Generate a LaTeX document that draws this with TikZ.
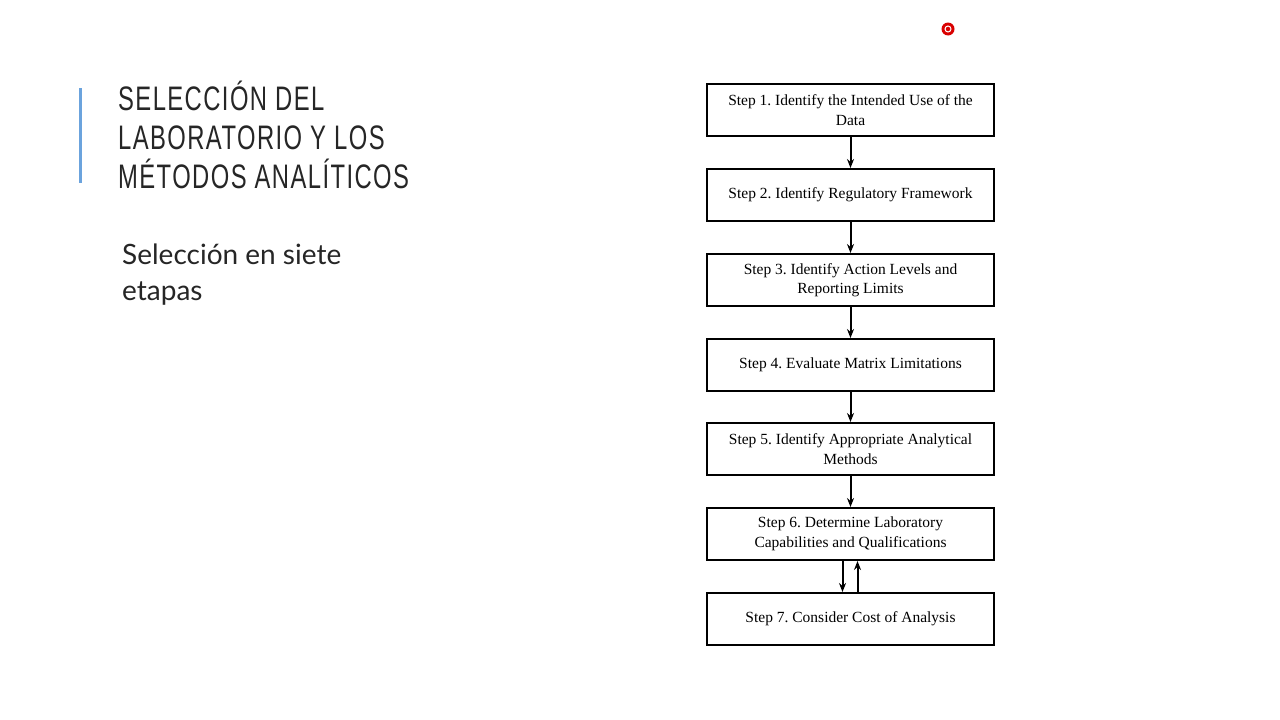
\documentclass[tikz,border=0pt]{standalone}
\usepackage{fontspec}
\setmainfont{Liberation Serif}
\newfontfamily\titlefont[LetterSpace=6]{Liberation Sans}
\newfontfamily\subfont{Lato}
\usetikzlibrary{arrows.meta}
\frenchspacing
\begin{document}
\begin{tikzpicture}[x=1pt,y=-1pt,
  stepbox/.style={draw=black,line width=2pt,minimum width=287pt,minimum height=52pt,align=center,inner sep=0pt,font=\fontsize{15.5}{19.5}\selectfont,anchor=north west},
  arr/.style={line width=2pt,-{Stealth[length=9pt,width=7pt]}},
  ttl/.style={anchor=base west,inner sep=0pt,font=\titlefont\fontsize{34}{34}\selectfont,text=black!85}]
\fill[white] (0,0) rectangle (1280,720);
\useasboundingbox (0,0) rectangle (1280,720);
\fill[cyan!60!blue!60] (79,88) rectangle (81.5,183);
\node[ttl] (t1) at (118,110) {\scalebox{0.7}[1]{SELECCIÓN DEL}};
\node[ttl] (t2) at (118,149) {\scalebox{0.7}[1]{LABORATORIO Y LOS}};
\node[ttl] (t3) at (118,188) {\scalebox{0.7}[1]{MÉTODOS ANALÍTICOS}};
\node[anchor=north west,inner sep=0pt,font=\subfont\fontsize{28}{36}\selectfont,align=left,text=black!85] (sub) at (122,244) {Selección en siete\\etapas};
\fill[red!85!black] (948,29) circle (6.5);
\draw[white,line width=1pt] (948,29) circle (3);
\node[stepbox] (s1) at (706,83) {Step 1. Identify the Intended Use of the\\Data};
\node[stepbox] (s2) at (706,168) {Step 2. Identify Regulatory Framework};
\node[stepbox] (s3) at (706,253) {Step 3. Identify Action Levels and\\Reporting Limits};
\node[stepbox] (s4) at (706,338) {Step 4. Evaluate Matrix Limitations};
\node[stepbox] (s5) at (706,422) {Step 5. Identify Appropriate Analytical\\Methods};
\node[stepbox] (s6) at (706,507) {Step 6. Determine Laboratory\\Capabilities and Qualifications};
\node[stepbox] (s7) at (706,592) {Step 7. Consider Cost of Analysis};
\foreach \a/\b in {s1/s2,s2/s3,s3/s4,s4/s5,s5/s6}
  \draw[arr] (\a.south) -- (\b.north);
\draw[arr] ([xshift=-8pt]s6.south) -- ([xshift=-8pt]s7.north);
\draw[arr] ([xshift=7pt]s7.north) -- ([xshift=7pt]s6.south);
\end{tikzpicture}
\end{document}
